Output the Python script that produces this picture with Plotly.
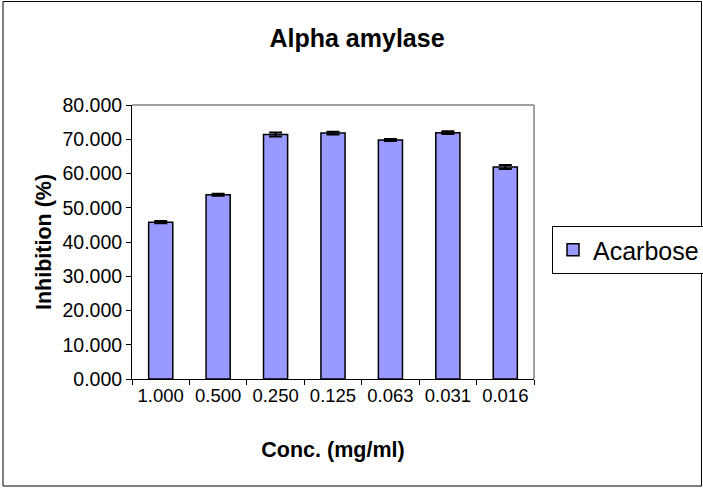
import plotly.graph_objects as go

categories = ["1.000", "0.500", "0.250", "0.125", "0.063", "0.031", "0.016"]
inhibition = [45.8, 53.8, 71.4, 71.8, 69.8, 71.9, 61.9]
errors = [0.3, 0.3, 0.6, 0.4, 0.3, 0.4, 0.6]
y_ticks = [0, 10, 20, 30, 40, 50, 60, 70, 80]

W, H = 703, 488
L, R, T, B = 132, 169, 105, 109
pw, ph = W - L - R, H - T - B

fig = go.Figure()
fig.add_trace(go.Bar(
    x=categories, y=inhibition, name="Acarbose",
    marker=dict(color="#9999FF", line=dict(color="black", width=1.5)),
    width=0.42,
    error_y=dict(type="data", array=errors, color="black", thickness=2, width=6.5),
))

font = "Liberation Sans, Arial, sans-serif"
fig.update_layout(
    width=W, height=H,
    margin=dict(l=L, r=R, t=T, b=B, autoexpand=False),
    paper_bgcolor="white", plot_bgcolor="white",
    font=dict(family=font, color="black", size=18),
    title=dict(text="<b>Alpha amylase</b>", x=357 / W, xanchor="center",
               y=1 - 38 / H, yanchor="middle", font=dict(size=25)),
    showlegend=True,
    legend=dict(x=(552 - L) / pw, xanchor="left", y=(379 - 250) / ph, yanchor="middle",
                bordercolor="black", borderwidth=1, font=dict(size=25),
                bgcolor="white", itemwidth=30),
    xaxis=dict(
        type="category", tickson="boundaries", ticks="outside", ticklen=5,
        tickcolor="black", showline=True, linecolor="black", linewidth=1,
        mirror=False, showgrid=False,
        title=dict(text="<b>Conc. (mg/ml)</b>", font=dict(size=21.5), standoff=36),
        tickfont=dict(size=18.5),
    ),
    yaxis=dict(
        range=[0, 80], tickvals=y_ticks, ticktext=[f"{v:.3f}" for v in y_ticks],
        ticks="outside", ticklen=5, tickcolor="black", showline=True,
        linecolor="black", linewidth=1, showgrid=False, zeroline=False,
        title=dict(text="<b>Inhibition (%)</b>", font=dict(size=21.5), standoff=4),
        tickfont=dict(size=19.5),
    ),
    shapes=[
        dict(type="line", xref="paper", yref="paper", x0=0, x1=1, y0=1, y1=1,
             line=dict(color="#808080", width=1.5)),
        dict(type="line", xref="paper", yref="paper", x0=1, x1=1, y0=0, y1=1,
             line=dict(color="#808080", width=1.5)),
        dict(type="rect", xref="paper", yref="paper",
             x0=-(L - 3) / pw, x1=1 + (R - 1.5) / pw,
             y0=-(B - 2) / ph, y1=1 + (T - 1.5) / ph,
             line=dict(color="black", width=1)),
    ],
)

fig.write_html("out.html", config={"displayModeBar": False},
               post_script="document.body.style.margin='0';")
